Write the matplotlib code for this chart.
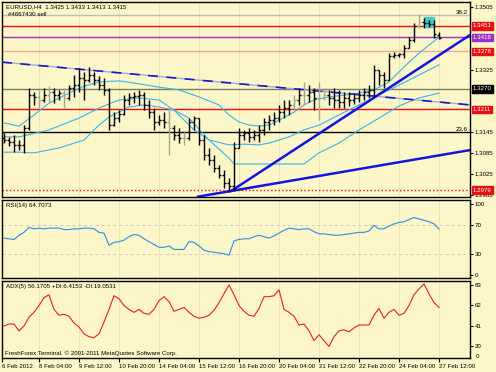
import matplotlib.pyplot as plt
import matplotlib.transforms as mtransforms
from matplotlib.patches import Rectangle

plt.rcParams['font.family'] = ['Liberation Sans', 'DejaVu Sans']
bg = "#fcf6c9"
fs = 4.4

# --- date axis (bar index of each label) ---
date_labels = ["6 Feb 2012", "8 Feb 04:00", "9 Feb 12:00", "10 Feb 20:00", "14 Feb 04:00",
               "15 Feb 12:00", "16 Feb 20:00", "20 Feb 04:00", "21 Feb 12:00",
               "22 Feb 20:00", "24 Feb 04:00", "27 Feb 12:00"]
date_pos = [-0.4, 7, 15, 23, 31, 39, 47, 55, 63, 71, 79, 87]

# --- EURUSD H4 bars ---
opens = [1.3129, 1.3123, 1.3117, 1.3109, 1.3109, 1.3157, 1.3252, 1.3247, 1.3238, 1.3252,
         1.3261, 1.3252, 1.3258, 1.3244, 1.3273, 1.3281, 1.3301, 1.3296, 1.3310, 1.3296,
         1.3281, 1.3267, 1.3166, 1.3186, 1.3198, 1.3238, 1.3247, 1.3250, 1.3252, 1.3224,
         1.3203, 1.3175, 1.3180, 1.3175, 1.3157, 1.3137, 1.3129, 1.3129, 1.3175, 1.3186,
         1.3123, 1.3080, 1.3065, 1.3042, 1.3022, 1.2999, 1.2991, 1.3100, 1.3137, 1.3143,
         1.3132, 1.3137, 1.3152, 1.3175, 1.3180, 1.3186, 1.3203, 1.3215, 1.3224, 1.3238,
         1.3252, 1.3252, 1.3261, 1.3244, 1.3267, 1.3252, 1.3244, 1.3238, 1.3232, 1.3244,
         1.3238, 1.3244, 1.3252, 1.3261, 1.3267, 1.3324, 1.3310, 1.3296, 1.3365, 1.3368,
         1.3370, 1.3388, 1.3411, 1.3451, 1.3463, 1.3460, 1.3457, 1.3425]
highs = [1.3143, 1.3132, 1.3137, 1.3123, 1.3166, 1.3273, 1.3261, 1.3267, 1.3273, 1.3278,
         1.3273, 1.3267, 1.3273, 1.3281, 1.3310, 1.3330, 1.3319, 1.3333, 1.3319, 1.3307,
         1.3301, 1.3273, 1.3203, 1.3209, 1.3252, 1.3258, 1.3261, 1.3267, 1.3261, 1.3238,
         1.3215, 1.3195, 1.3203, 1.3215, 1.3166, 1.3157, 1.3146, 1.3186, 1.3192, 1.3186,
         1.3137, 1.3100, 1.3080, 1.3051, 1.3037, 1.3014, 1.3117, 1.3157, 1.3152, 1.3157,
         1.3152, 1.3166, 1.3186, 1.3195, 1.3203, 1.3224, 1.3238, 1.3238, 1.3252, 1.3273,
         1.3290, 1.3281, 1.3273, 1.3290, 1.3273, 1.3267, 1.3273, 1.3267, 1.3261, 1.3261,
         1.3258, 1.3267, 1.3273, 1.3281, 1.3339, 1.3324, 1.3319, 1.3373, 1.3376, 1.3373,
         1.3396, 1.3419, 1.3460, 1.3486, 1.3474, 1.3468, 1.3468, 1.3433]
lows = [1.3114, 1.3106, 1.3088, 1.3094, 1.3086, 1.3152, 1.3224, 1.3215, 1.3232, 1.3232,
        1.3229, 1.3238, 1.3215, 1.3238, 1.3247, 1.3261, 1.3238, 1.3290, 1.3281, 1.3267,
        1.3252, 1.3152, 1.3163, 1.3175, 1.3195, 1.3224, 1.3229, 1.3224, 1.3209, 1.3186,
        1.3152, 1.3166, 1.3157, 1.3080, 1.3123, 1.3114, 1.3109, 1.3123, 1.3152, 1.3109,
        1.3065, 1.3051, 1.3031, 1.3014, 1.2985, 1.2973, 1.2979, 1.3100, 1.3123, 1.3117,
        1.3123, 1.3117, 1.3137, 1.3152, 1.3166, 1.3175, 1.3186, 1.3195, 1.3209, 1.3224,
        1.3224, 1.3232, 1.3209, 1.3180, 1.3238, 1.3224, 1.3215, 1.3215, 1.3215, 1.3221,
        1.3227, 1.3232, 1.3238, 1.3244, 1.3247, 1.3281, 1.3273, 1.3296, 1.3359, 1.3362,
        1.3359, 1.3388, 1.3405, 1.3445, 1.3445, 1.3448, 1.3416, 1.3413]
closes = [1.3123, 1.3117, 1.3109, 1.3109, 1.3157, 1.3252, 1.3247, 1.3238, 1.3252, 1.3261,
          1.3252, 1.3258, 1.3244, 1.3273, 1.3281, 1.3301, 1.3296, 1.3310, 1.3296, 1.3281,
          1.3267, 1.3166, 1.3186, 1.3198, 1.3238, 1.3247, 1.3250, 1.3252, 1.3224, 1.3203,
          1.3175, 1.3180, 1.3175, 1.3157, 1.3137, 1.3129, 1.3129, 1.3175, 1.3186, 1.3123,
          1.3080, 1.3065, 1.3042, 1.3022, 1.2999, 1.2991, 1.3100, 1.3137, 1.3143, 1.3132,
          1.3137, 1.3152, 1.3175, 1.3180, 1.3186, 1.3203, 1.3215, 1.3224, 1.3238, 1.3252,
          1.3252, 1.3261, 1.3244, 1.3267, 1.3252, 1.3244, 1.3238, 1.3232, 1.3244, 1.3238,
          1.3244, 1.3252, 1.3261, 1.3267, 1.3324, 1.3310, 1.3296, 1.3365, 1.3368, 1.3370,
          1.3388, 1.3411, 1.3451, 1.3463, 1.3460, 1.3457, 1.3428, 1.3415]
gray_bars = [7, 9, 12, 33, 36, 58, 60, 63, 64, 83]

# --- bands (bar index, price) ---
upper_idx = [0, 3, 6, 9, 13, 16, 19, 23, 26, 31, 35, 39, 43, 45, 47, 49, 51, 53, 55, 58,
             60, 62, 65, 68, 71, 74, 77, 80, 83, 87]
upper_val = [1.3172, 1.3163, 1.3195, 1.3229, 1.3258, 1.3278, 1.3290, 1.3293, 1.3287, 1.3275,
             1.3267, 1.3247, 1.3224, 1.3195, 1.3175, 1.3166, 1.3163, 1.3166, 1.3180, 1.3203,
             1.3224, 1.3238, 1.3247, 1.3252, 1.3258, 1.3267, 1.3290, 1.3333, 1.3373, 1.3419]
mid_idx = [0, 3, 9, 15, 19, 23, 27, 31, 34, 38, 41, 45, 48, 51, 53, 57, 60, 63, 67, 71,
           75, 79, 83, 87]
mid_val = [1.3132, 1.3132, 1.3152, 1.3186, 1.3215, 1.3238, 1.3244, 1.3238, 1.3209, 1.3152,
           1.3123, 1.3109, 1.3111, 1.3109, 1.3114, 1.3132, 1.3152, 1.3166, 1.3195, 1.3224,
           1.3252, 1.3281, 1.3310, 1.3339]
lower_idx = [0, 3, 6, 11, 16, 19, 21, 25, 28, 31, 34, 37, 41, 45, 46, 49, 53, 57, 60, 63,
             67, 71, 75, 79, 83, 87]
lower_val = [1.3088, 1.3088, 1.3086, 1.3100, 1.3123, 1.3166, 1.3189, 1.3218, 1.3224, 1.3218,
             1.3209, 1.3186, 1.3123, 1.3071, 1.3054, 1.3054, 1.3054, 1.3054, 1.3054, 1.3086,
             1.3114, 1.3152, 1.3186, 1.3221, 1.3244, 1.3258]

# --- objects ---
levels = [1.3482, 1.3451, 1.3418, 1.3378, 1.3270, 1.3211, 1.3145, 1.2979]
level_colors = ["#bdbdbd", "#e81010", "#9a30c8", "#f0a890", "#7c7c60", "#e81010", "#000000", "#e81010"]
level_styles = ["-", "-", "-", "-", "-", "-", "-", ":"]
tag_prices = [1.3451, 1.3418, 1.3378, 1.3270, 1.3211, 1.2979]
tag_colors = ["#e81010", "#9a30c8", "#e81010", "#000000", "#e81010", "#e81010"]
price_ticks = [1.3505, 1.3325, 1.3145, 1.3085, 1.3025, 1.2965]
trend_steep = ([45.5, 93.2], [1.2977, 1.3425])
trend_flat = ([38.8, 93.2], [1.2960, 1.3094])
trend_down = ([-0.4, 93.2], [1.3347, 1.3224])
box = (84, 86, 1.3448, 1.3477)

# --- RSI(14) ---
rsi = [52, 51, 50, 56, 60, 67, 65, 66, 65, 66, 66, 66, 64, 64, 65, 65, 66, 66, 65, 60,
       59, 42, 46, 47, 49, 54, 57, 56, 51, 47, 43, 39, 39, 41, 36, 36, 36, 47, 46, 41,
       35, 33, 32, 31, 30, 28, 48, 50, 51, 51, 54, 56, 54, 52, 55, 59, 63, 66, 65, 64,
       65, 65, 61, 58, 58, 57, 56, 56, 57, 58, 59, 60, 60, 62, 70, 65, 65, 69, 72, 74,
       75, 78, 81, 79, 77, 75, 72, 64.7]

# --- ADX(5) ---
adx = [41, 43, 43, 36, 41, 50, 55, 62, 70, 73, 58, 52, 53, 51, 44, 40, 33, 30, 29, 33,
       45, 58, 72, 69, 62, 58, 55, 58, 54, 53, 58, 67, 71, 66, 56, 58, 60, 55, 51, 49,
       50, 52, 57, 65, 74, 83, 73, 62, 56, 52, 51, 59, 71, 71, 72, 78, 58, 55, 51, 42,
       43, 36, 26, 32, 26, 20, 30, 36, 37, 35, 39, 42, 42, 42, 52, 59, 49, 55, 58, 52,
       54, 62, 73, 79, 84, 74, 65, 60]

xs = list(range(len(closes)))
xlim = (-0.4, 93.2)


def style_axes(ax):
    ax.set_facecolor(bg)
    for s in ax.spines.values():
        s.set_color("black")
        s.set_linewidth(1)
    ax.yaxis.tick_right()
    ax.tick_params(axis="y", labelsize=fs, length=2, pad=1.5, colors="black")
    ax.set_xlim(*xlim)
    ax.set_xticks(date_pos)
    ax.grid(axis="x", color="#ebe2b2", lw=0.6)
    ax.set_axisbelow(True)


fig = plt.figure(figsize=(4.96, 3.72), dpi=100, facecolor=bg)
L, W = 2 / 496, 468 / 496
ax1 = fig.add_axes([L, 1 - 197 / 372, W, 195 / 372])
ax2 = fig.add_axes([L, 1 - 278 / 372, W, 78 / 372])
ax3 = fig.add_axes([L, 1 - 358 / 372, W, 77 / 372])
for ax in (ax1, ax2, ax3):
    style_axes(ax)
ax1.tick_params(axis="x", length=0, labelbottom=False)
ax2.tick_params(axis="x", length=0, labelbottom=False)

# main panel
ax1.set_ylim(1.2959, 1.3520)
ax1.add_patch(Rectangle((box[0], box[2]), box[1] - box[0], box[3] - box[2],
                        color="#44cccc", zorder=2))
for lv, c, ls in zip(levels, level_colors, level_styles):
    ax1.axhline(lv, color=c, ls=ls, lw=1, zorder=1)
ax1.plot(upper_idx, upper_val, color="#3ab4e6", lw=0.8, zorder=3)
ax1.plot(mid_idx, mid_val, color="#3ab4e6", lw=0.8, zorder=3)
ax1.plot(lower_idx, lower_val, color="#3ab4e6", lw=0.8, zorder=3)
ax1.plot(*trend_down, color="#a8a8d8", lw=1, zorder=3)
ax1.plot(*trend_down, color="#1818c8", lw=1.2, dashes=(6, 5), zorder=3)
ax1.plot(*trend_steep, color="#1414e0", lw=1.8, zorder=4)
ax1.plot(*trend_flat, color="#1414e0", lw=1.8, zorder=4)

for i in xs:
    c = "#a8a890" if i in gray_bars else "black"
    ax1.vlines(i, lows[i], highs[i], color=c, lw=1, zorder=5)
    ax1.hlines(opens[i], i - 0.45, i, color=c, lw=1, zorder=5)
    ax1.hlines(closes[i], i, i + 0.45, color=c, lw=1, zorder=5)

ax1.set_yticks(price_ticks)
ax1.set_yticklabels([f"{p:.4f}" for p in price_ticks])
tr = mtransforms.blended_transform_factory(ax1.transAxes, ax1.transData)
for p, c in zip(tag_prices, tag_colors):
    ax1.text(1.006, p, f"{p:.4f}", transform=tr, fontsize=fs, color="white", va="center",
             ha="left", clip_on=False,
             bbox=dict(boxstyle="square,pad=0.2", fc=c, ec=c))
ax1.text(0.995, 1.3484, "38.2", transform=tr, fontsize=fs, ha="right", va="bottom")
ax1.text(0.995, 1.3147, "23.6", transform=tr, fontsize=fs, ha="right", va="bottom")
ax1.text(0.008, 0.988, "EURUSD,H4  1.3425 1.3433 1.3413 1.3415", transform=ax1.transAxes,
         fontsize=fs, va="top")
ax1.text(0.012, 0.95, "#4667430 sell", transform=ax1.transAxes, fontsize=fs, va="top")

# RSI panel
ax2.set_ylim(-4.2, 105.6)
ax2.axhline(70, color="#c8c8c8", lw=0.7, ls=(0, (3, 3)))
ax2.axhline(30, color="#c8c8c8", lw=0.7, ls=(0, (3, 3)))
ax2.plot(xs, rsi, color="#2a8ee8", lw=0.8)
ax2.set_yticks([100, 70, 30, 0])
ax2.text(0.008, 0.96, "RSI(14) 64.7073", transform=ax2.transAxes, fontsize=fs, va="top")

# ADX panel
ax3.set_ylim(8.2, 87.1)
ax3.plot(xs, adx, color="#e82020", lw=0.8)
ax3.set_yticks([83, 62, 41, 20])
ax3.text(1.013, 9.8, "0", transform=mtransforms.blended_transform_factory(ax3.transAxes, ax3.transData),
         fontsize=fs, va="center")
ax3.text(0.008, 0.96, "ADX(5) 56.1705 +DI:6.4153 -DI:19.0531", transform=ax3.transAxes,
         fontsize=fs, va="top")
ax3.text(0.006, 0.03, "FreshForex Terminal. \u00a9 2001-2011 MetaQuotes Software Corp.",
         transform=ax3.transAxes, fontsize=fs, va="bottom")
ax3.set_xticklabels(date_labels, ha="left")
ax3.tick_params(axis="x", labelsize=fs, length=3, pad=1)

fig.savefig("out.png", dpi=100, facecolor=bg)
